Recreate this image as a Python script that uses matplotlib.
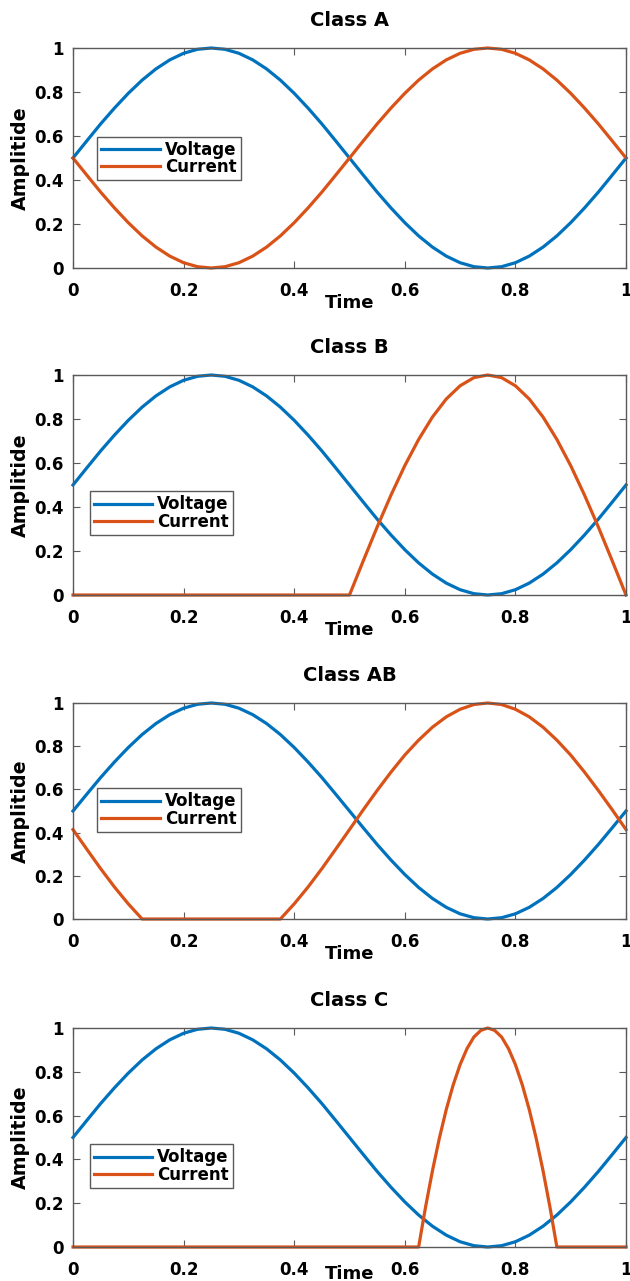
import matplotlib
matplotlib.use("Agg")
import matplotlib.pyplot as plt

plt.rcParams.update({
    "font.family": ["DejaVu Sans"],
    "font.weight": "bold",
    "axes.labelweight": "bold",
    "axes.titleweight": "bold",
})

VOLT_COLOR = "#0072BD"
CURR_COLOR = "#D95319"
AX_EDGE = "#5a5a5a"

# time samples (0 .. 1, step 0.025)
time = [
    0.000, 0.025, 0.050, 0.075, 0.100, 0.125, 0.150, 0.175, 0.200, 0.225,
    0.250, 0.275, 0.300, 0.325, 0.350, 0.375, 0.400, 0.425, 0.450, 0.475,
    0.500, 0.525, 0.550, 0.575, 0.600, 0.625, 0.650, 0.675, 0.700, 0.725,
    0.750, 0.775, 0.800, 0.825, 0.850, 0.875, 0.900, 0.925, 0.950, 0.975,
    1.000,
]

voltage = [
    0.500, 0.578, 0.655, 0.727, 0.794, 0.854, 0.905, 0.946, 0.976, 0.994,
    1.000, 0.994, 0.976, 0.946, 0.905, 0.854, 0.794, 0.727, 0.655, 0.578,
    0.500, 0.422, 0.345, 0.273, 0.206, 0.146, 0.095, 0.054, 0.024, 0.006,
    0.000, 0.006, 0.024, 0.054, 0.095, 0.146, 0.206, 0.273, 0.345, 0.422,
    0.500,
]

current_a = [
    0.500, 0.422, 0.345, 0.273, 0.206, 0.146, 0.095, 0.054, 0.024, 0.006,
    0.000, 0.006, 0.024, 0.054, 0.095, 0.146, 0.206, 0.273, 0.345, 0.422,
    0.500, 0.578, 0.655, 0.727, 0.794, 0.854, 0.905, 0.946, 0.976, 0.994,
    1.000, 0.994, 0.976, 0.946, 0.905, 0.854, 0.794, 0.727, 0.655, 0.578,
    0.500,
]

current_b = [
    0.000, 0.000, 0.000, 0.000, 0.000, 0.000, 0.000, 0.000, 0.000, 0.000,
    0.000, 0.000, 0.000, 0.000, 0.000, 0.000, 0.000, 0.000, 0.000, 0.000,
    0.000, 0.156, 0.309, 0.454, 0.588, 0.707, 0.809, 0.891, 0.951, 0.988,
    1.000, 0.988, 0.951, 0.891, 0.809, 0.707, 0.588, 0.454, 0.309, 0.156,
    0.000,
]

current_ab = [
    0.414, 0.323, 0.233, 0.148, 0.070, 0.000, 0.000, 0.000, 0.000, 0.000,
    0.000, 0.000, 0.000, 0.000, 0.000, 0.000, 0.070, 0.148, 0.233, 0.323,
    0.414, 0.506, 0.595, 0.680, 0.759, 0.828, 0.888, 0.936, 0.971, 0.993,
    1.000, 0.993, 0.971, 0.936, 0.888, 0.828, 0.759, 0.680, 0.595, 0.506,
    0.414,
]

# class C conducts only for a short window, so it gets a finer grid there
time_c = [
    0.000, 0.625, 0.6375, 0.650, 0.6625, 0.675, 0.6875, 0.700, 0.7125, 0.725,
    0.7375, 0.750, 0.7625, 0.775, 0.7875, 0.800, 0.8125, 0.825, 0.8375, 0.850,
    0.8625, 0.875, 1.000,
]
current_c = [
    0.000, 0.000, 0.182, 0.348, 0.497, 0.628, 0.740, 0.833, 0.906, 0.959,
    0.989, 1.000, 0.989, 0.959, 0.906, 0.833, 0.740, 0.628, 0.497, 0.348,
    0.182, 0.000, 0.000,
]

titles = ["Class A", "Class B", "Class AB", "Class C"]
currents = [(time, current_a), (time, current_b), (time, current_ab), (time_c, current_c)]
ticks = [0, 0.2, 0.4, 0.6, 0.8, 1]
tick_labels = ["0", "0.2", "0.4", "0.6", "0.8", "1"]

W, H = 630, 1281
fig = plt.figure(figsize=(W / 100, H / 100), dpi=100)

# pixel extents of each panel: (left, right, top, bottom)
boxes = [(73, 626, 48, 268), (73, 626, 375, 595), (73, 626, 703, 919), (73, 626, 1028, 1247)]
legend_pos = [(0.044, 0.498), (0.03, 0.373), (0.044, 0.505), (0.03, 0.37)]
# last panel sits on the figure edge, pull its x label up so it stays inside
xlabel_pads = [-4, -4, -4, -10]

for (l, r, t, b), title, (tc, ic), lpos, xpad in zip(boxes, titles, currents,
                                                       legend_pos, xlabel_pads):
    ax = fig.add_axes([l / W, (H - b) / H, (r - l) / W, (b - t) / H])
    ax.plot(time, voltage, color=VOLT_COLOR, lw=2.3, label="Voltage", clip_on=False)
    ax.plot(tc, ic, color=CURR_COLOR, lw=2.3, label="Current", clip_on=False)
    ax.set_xlim(0, 1)
    ax.set_ylim(0, 1)
    ax.set_xticks(ticks, tick_labels)
    ax.set_yticks(ticks, tick_labels)
    ax.tick_params(direction="in", top=True, right=True, length=5, width=0.8,
                   color=AX_EDGE, labelsize=12)
    ax.tick_params(axis="x", pad=10)
    ax.tick_params(axis="y", pad=7)
    for s in ax.spines.values():
        s.set_color(AX_EDGE)
        s.set_linewidth(1.0)
    ax.set_title(title, fontsize=14, pad=16)
    ax.set_xlabel("Time", fontsize=13, labelpad=xpad)
    ax.set_ylabel("Amplitide", fontsize=13.7, labelpad=3)
    leg = ax.legend(loc="center left", bbox_to_anchor=lpos, fontsize=12,
                    frameon=True, fancybox=False, edgecolor=AX_EDGE,
                    framealpha=1, borderpad=0.25, labelspacing=-0.05,
                    handlelength=3.5, handletextpad=0.3, borderaxespad=0)
    leg.get_frame().set_linewidth(1.0)

fig.savefig("out.png", dpi=100)
